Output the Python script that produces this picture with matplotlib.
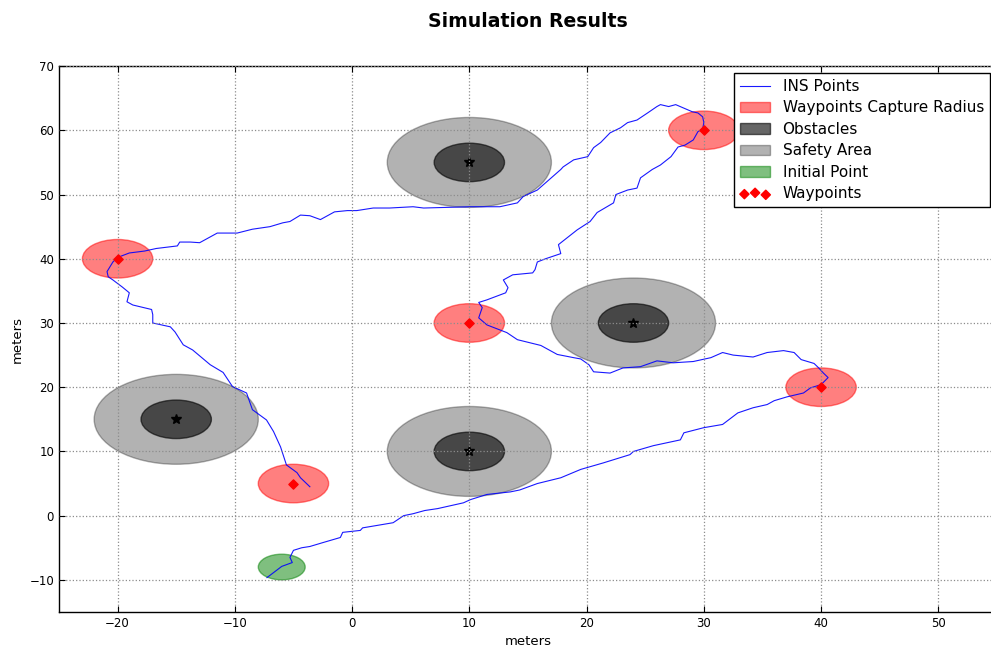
import matplotlib
matplotlib.use("Agg")
import matplotlib.pyplot as plt
from matplotlib.patches import Circle

# Vehicle track from the inertial navigation system (meters)
ins_x = [-7.26, -6.0, -5.1, -5.3, -5.0, -4.3, -3.6, -2.5, -1.0, -0.8, 0.7, 0.9, 3.5, 4.4,
         5.2, 6.2, 7.3, 9.5, 10.1, 11.5, 13.5, 14.3, 15.8, 17.8, 19.5, 21.4, 23.7, 24.0,
         25.7, 28.0, 28.3, 30.0, 31.6, 32.9, 34.2, 35.4, 36.0, 37.1, 38.5, 39.1, 40.0,
         40.6, 40.2, 39.8, 39.4, 38.3, 37.7, 36.8, 35.4, 34.2, 32.5, 31.6, 30.6, 29.1,
         27.4, 26.0, 24.6, 23.1, 22.0, 20.6, 20.2, 19.5, 18.9, 17.5, 16.1, 14.1, 13.2,
         11.5, 10.8, 11.1, 10.8, 11.5, 13.1, 13.3, 12.9, 13.7, 15.4, 15.6, 15.8, 16.5,
         17.8, 17.6, 19.2, 20.3, 20.9, 22.3, 22.5, 23.5, 24.3, 24.6, 25.6, 26.3, 27.2,
         27.8, 28.4, 29.1, 29.5, 29.9, 30.0, 29.9, 29.5, 29.0, 27.6, 27.0, 26.3, 26.0,
         25.2, 24.3, 23.5, 22.9, 22.0, 21.2, 20.6, 20.1, 18.9, 18.0, 17.8, 15.8, 14.6,
         14.1, 12.6, 10.1, 6.1, 5.2, 3.2, 1.8, 0.4, -0.4, -1.5, -2.0, -2.7, -3.6, -4.4,
         -5.3, -5.9, -7.0, -8.5, -9.8, -11.5, -12.1, -13.0, -13.8, -14.7, -14.9, -16.7,
         -17.7, -19.0, -20.0, -20.4, -20.9, -20.8, -20.4, -19.6, -19.0, -19.2, -18.7,
         -17.1, -17.0, -17.0, -15.5, -15.1, -14.4, -13.6, -12.1, -11.0, -10.2, -9.0,
         -8.5, -7.3, -6.7, -6.1, -5.6, -4.7, -4.4, -3.6]
ins_y = [-9.65, -7.9, -7.3, -6.5, -5.4, -5.0, -4.8, -4.2, -3.4, -2.6, -2.3, -1.9, -1.1, 0.0,
         0.3, 0.8, 1.1, 2.0, 2.5, 3.3, 3.7, 4.0, 5.0, 5.9, 7.2, 8.2, 9.5, 10.0,
         10.9, 11.8, 12.9, 13.7, 14.2, 16.0, 16.8, 17.3, 17.9, 18.5, 19.1, 19.9, 20.4,
         21.5, 22.2, 23.0, 23.7, 24.3, 25.4, 25.7, 25.4, 24.7, 25.0, 25.4, 24.6, 24.0,
         23.8, 24.1, 23.2, 23.0, 22.2, 22.4, 23.5, 24.4, 24.6, 25.1, 26.5, 27.4, 28.5,
         29.7, 30.8, 32.4, 33.2, 33.6, 34.7, 35.5, 36.7, 37.5, 37.8, 38.3, 39.5, 40.0,
         40.8, 42.2, 44.5, 45.8, 47.2, 48.7, 50.0, 50.7, 51.0, 52.6, 53.9, 54.6, 55.9,
         57.4, 57.7, 58.5, 59.8, 60.2, 61.2, 62.1, 62.7, 62.9, 64.0, 63.7, 64.0, 63.7,
         62.7, 61.6, 61.2, 60.4, 59.6, 58.1, 57.3, 55.9, 55.4, 54.3, 53.9, 50.7, 49.7,
         48.7, 48.1, 48.1, 47.9, 48.1, 47.9, 47.9, 47.5, 47.5, 47.3, 46.8, 46.1, 46.7, 46.8,
         45.8, 45.6, 45.0, 44.6, 44.0, 44.0, 43.4, 42.5, 42.6, 42.6, 42.0, 41.6,
         41.2, 40.9, 40.2, 39.5, 38.0, 37.2, 36.7, 35.6, 34.7, 33.3, 32.8,
         32.1, 31.3, 30.0, 29.4, 28.6, 26.6, 25.8, 23.5, 22.3, 20.1, 19.1,
         16.5, 14.9, 13.1, 10.7, 7.9, 6.7, 5.9, 4.5]

# Mission definition
waypoints_x = [-20, 10, 30, 40, -5]
waypoints_y = [40, 30, 60, 20, 5]
capture_radius = 3

obstacles_x = [-15, 10, 10, 24]
obstacles_y = [15, 10, 55, 30]
obstacle_radius = 3
safety_radius = 7

initial_x, initial_y = -6, -8
initial_radius = 2

plt.rcParams.update({
    "font.family": "DejaVu Sans",
    "xtick.direction": "in",
    "ytick.direction": "in",
    "xtick.top": True,
    "ytick.right": True,
    "xtick.major.size": 4,
    "ytick.major.size": 4,
})

fig = plt.figure(figsize=(9.91, 6.53), dpi=100, facecolor="white")
# the plot area runs slightly past the right edge of the canvas
ax = fig.add_axes([0.0595, 0.0628, 0.9465, 0.836])

line, = ax.plot(ins_x, ins_y, color="b", lw=0.8, alpha=0.9, label="INS Points")

wp_patch = None
for x, y in zip(waypoints_x, waypoints_y):
    wp_patch = ax.add_patch(Circle((x, y), capture_radius, fc="r", ec="r",
                                   alpha=0.5, lw=1))
safe_patch = obs_patch = None
for x, y in zip(obstacles_x, obstacles_y):
    safe_patch = ax.add_patch(Circle((x, y), safety_radius, fc="k", ec="k",
                                     alpha=0.3, lw=1))
    obs_patch = ax.add_patch(Circle((x, y), obstacle_radius, fc="k", ec="k",
                                    alpha=0.6, lw=1))
init_patch = ax.add_patch(Circle((initial_x, initial_y), initial_radius, fc="g",
                                 ec="g", alpha=0.5, lw=1))

ax.plot(obstacles_x, obstacles_y, "k*", ms=7)
wp_scatter = ax.scatter(waypoints_x, waypoints_y, marker="D", s=22, c="r",
                        edgecolors="r", zorder=3)

ax.set_xlim(-25, 55)
ax.set_ylim(-15, 70)
ax.set_xticks(range(-20, 51, 10))
ax.set_yticks(range(-10, 71, 10))
ax.tick_params(labelsize=8.5)
ax.grid(True, color="0.55", linestyle=":", linewidth=0.9)
ax.set_axisbelow(False)
for s in ax.spines.values():
    s.set_linewidth(1)

ax.set_xlabel("meters", fontsize=9.5)
ax.set_ylabel("meters", fontsize=9.5)
ax.set_title("Simulation Results", fontsize=13.6, fontweight="bold", pad=28)

leg = ax.legend([line, wp_patch, obs_patch, safe_patch, init_patch, wp_scatter],
                ["INS Points", "Waypoints Capture Radius", "Obstacles", "Safety Area",
                 "Initial Point", "Waypoints"],
                loc="upper right", fontsize=11, scatterpoints=3, fancybox=False,
                framealpha=1, edgecolor="k", borderaxespad=0.45, handlelength=2,
                labelspacing=0.42, borderpad=0.4)
leg.get_frame().set_linewidth(1)

fig.savefig("out.png", dpi=100, facecolor="white")
